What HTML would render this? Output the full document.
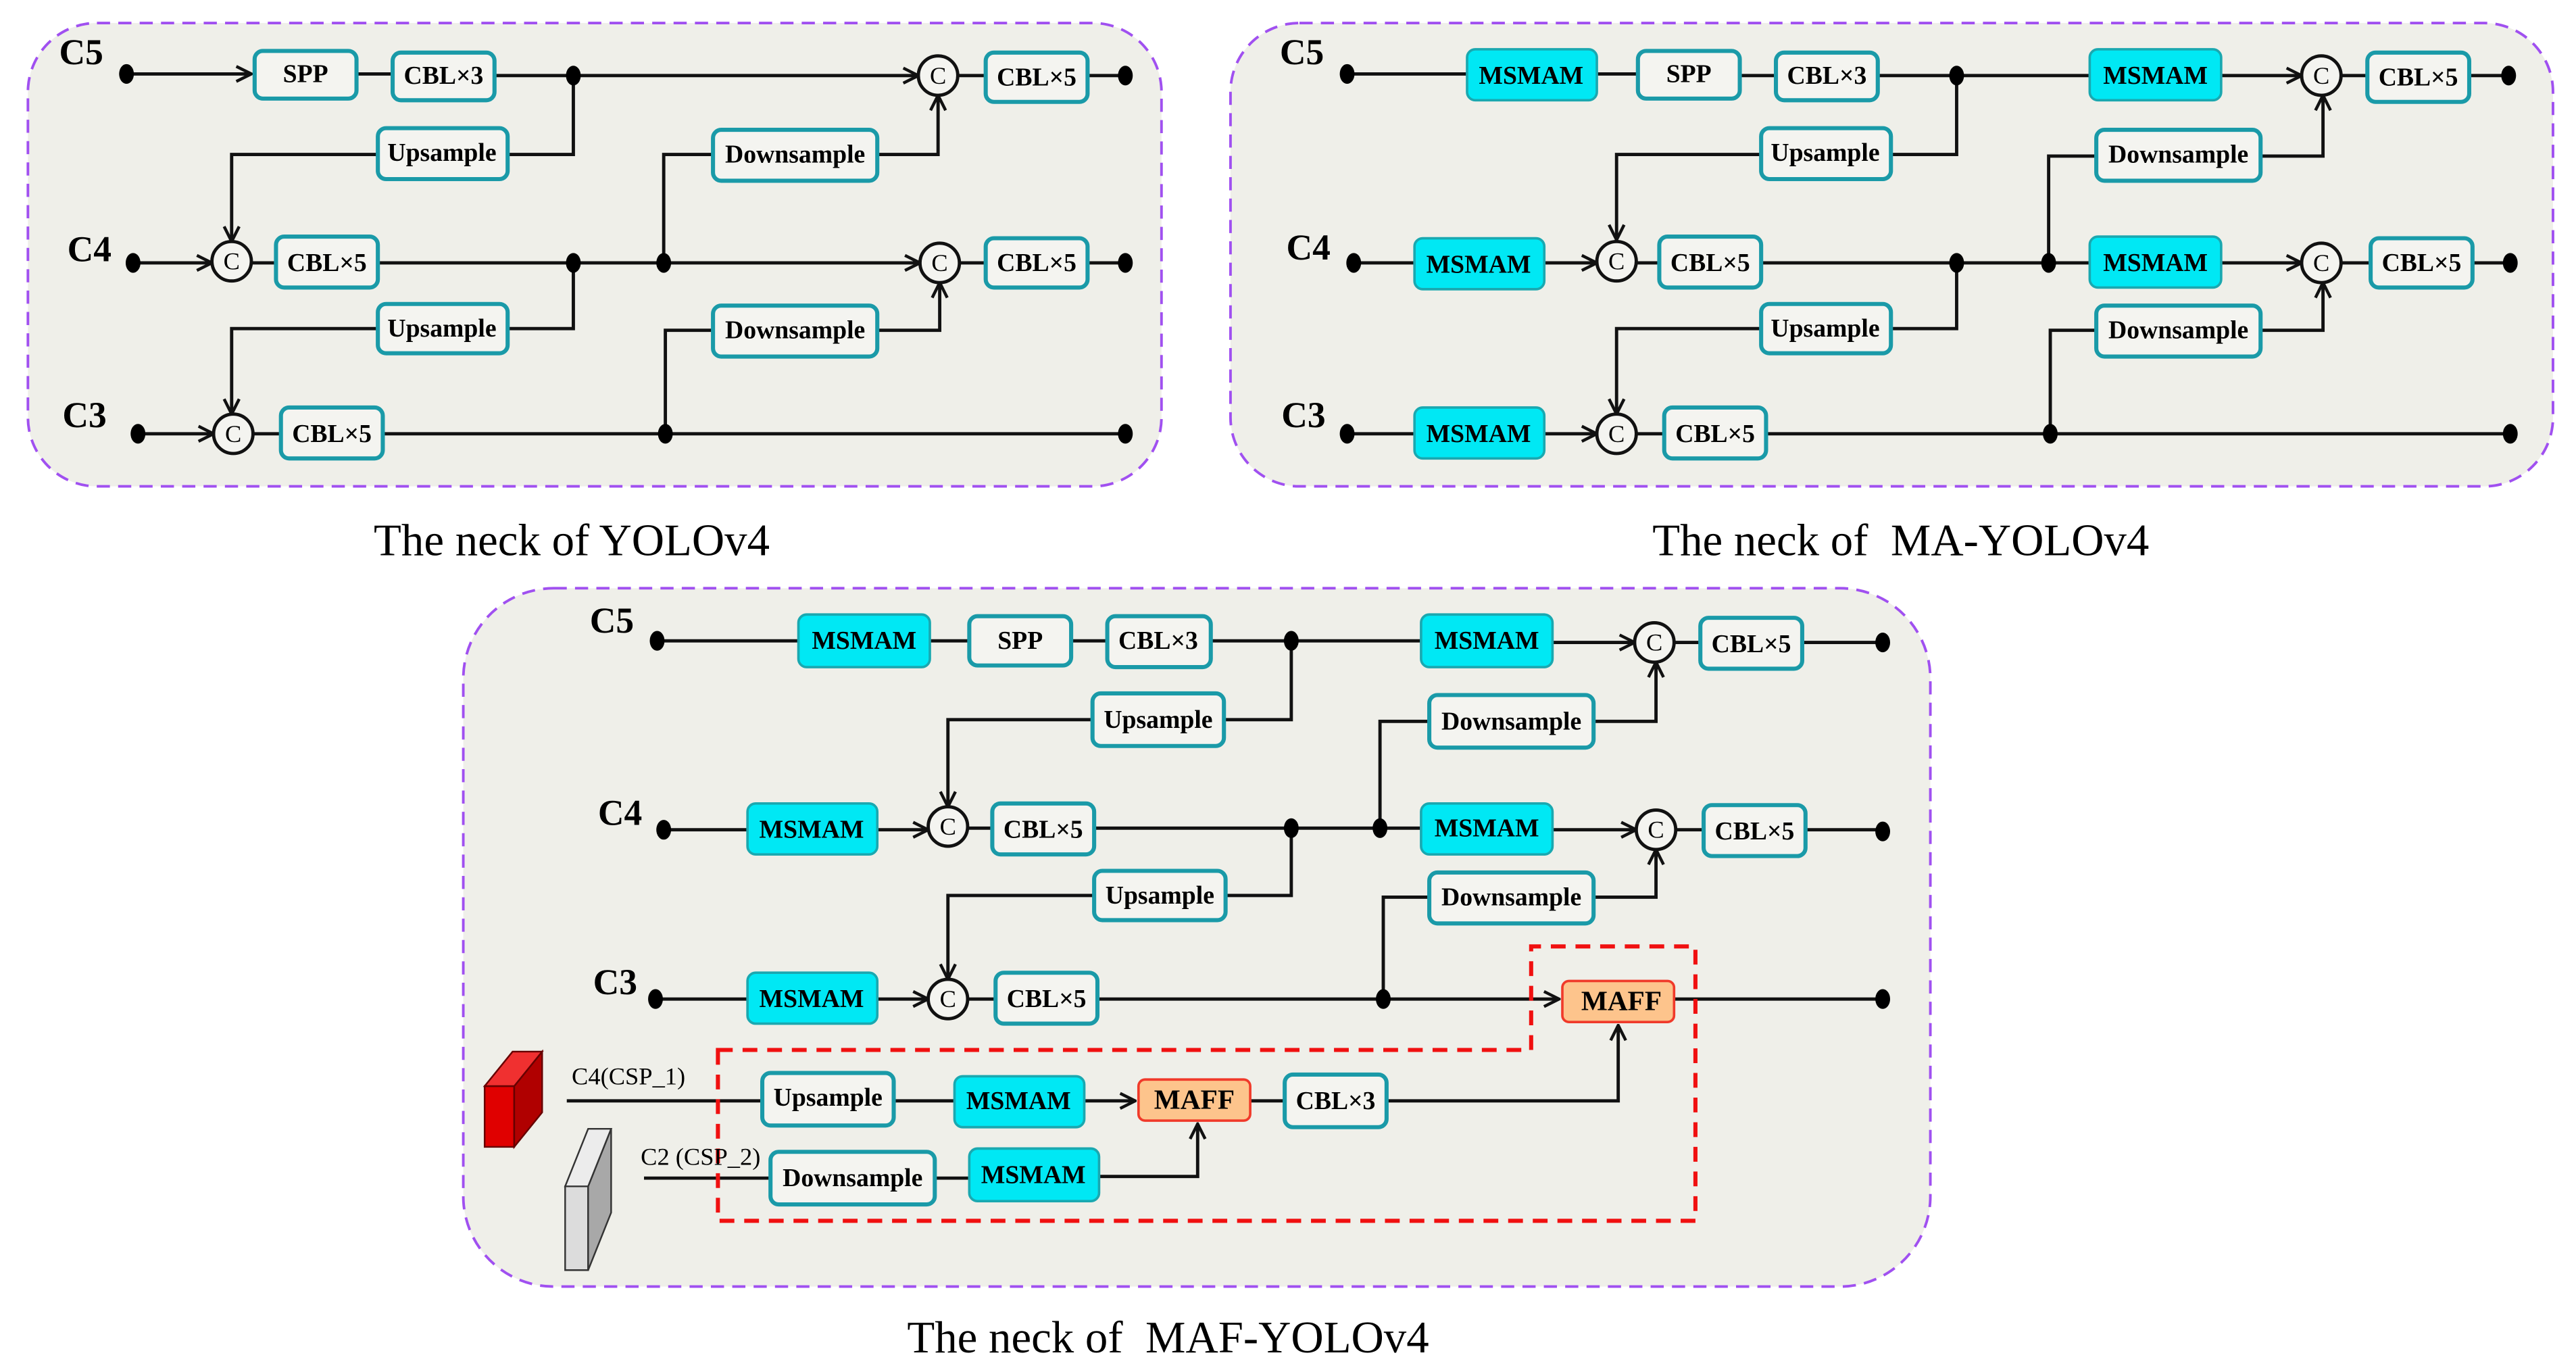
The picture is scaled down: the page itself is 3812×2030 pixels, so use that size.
<!DOCTYPE html>
<html><head><meta charset="utf-8"><style>
html,body{margin:0;padding:0;background:#fff}
svg{display:block}
text{font-family:"Liberation Serif",serif}
.b{fill:#f4f4f0;stroke:#1a9aa8;stroke-width:2.5}
.m{fill:#00e8f4;stroke:#1aa8b0;stroke-width:1.5}
.t{font-weight:bold;font-size:15.5px;text-anchor:middle;dominant-baseline:central}
.l{stroke:#111;stroke-width:2;fill:none}
.lb{font-weight:bold;font-size:22px}
.cap{font-size:27.5px;text-anchor:middle;white-space:pre}
.c{fill:#f4f4f0;stroke:#111;stroke-width:2}
.ct{font-size:15px;text-anchor:middle;dominant-baseline:central}
.p{fill:#efefe9;stroke:#a050f0;stroke-width:1.6;stroke-dasharray:8 5}
</style></head><body>
<svg width="3812" height="2030" viewBox="0 0 1568 835" preserveAspectRatio="none" xmlns="http://www.w3.org/2000/svg">
<defs>
<marker id="A" viewBox="0 0 12 12" refX="11" refY="6" markerWidth="11" markerHeight="11" orient="auto" markerUnits="userSpaceOnUse"><path d="M1,1 L11,6 L1,11" fill="none" stroke="#111" stroke-width="2"/></marker>
</defs>
<rect width="1568" height="835" fill="#fff"/>

<!-- Panel 1 -->
<rect class="p" x="17" y="14" width="690" height="282" rx="42"/>
<g>
<path class="l" d="M77,45 H153" marker-end="url(#A)"/>
<path class="l" d="M217,45 H239 M301,46 H559" marker-end="url(#A)"/>
<path class="l" d="M583,46 H600 M662,46 H685"/>
<path class="l" d="M349,46 V94 H309 M230,94 H141 V147" marker-end="url(#A)"/>
<path class="l" d="M81,160 H129" marker-end="url(#A)"/>
<path class="l" d="M153,160 H168 M230,160 H560" marker-end="url(#A)"/>
<path class="l" d="M584,160 H600 M662,160 H685"/>
<path class="l" d="M404,160 V94 H434 M534,94 H571 V58" marker-end="url(#A)"/>
<path class="l" d="M349,160 V200 H309 M230,200 H141 V252" marker-end="url(#A)"/>
<path class="l" d="M84,264 H130" marker-end="url(#A)"/>
<path class="l" d="M154,264 H171 M233,264 H685"/>
<path class="l" d="M405,264 V201 H434 M534,201 H572 V172" marker-end="url(#A)"/>
<rect class="b" x="155" y="31" width="62" height="29" rx="5"/><text class="t" x="186" y="45">SPP</text>
<rect class="b" x="239" y="32" width="62" height="29" rx="5"/><text class="t" x="270" y="46">CBL×3</text>
<rect class="b" x="600" y="32" width="62" height="30" rx="5"/><text class="t" x="631" y="47">CBL×5</text>
<rect class="b" x="230" y="78" width="79" height="31" rx="5"/><text class="t" x="269" y="93">Upsample</text>
<rect class="b" x="434" y="79" width="100" height="31" rx="5"/><text class="t" x="484" y="94">Downsample</text>
<rect class="b" x="168" y="144" width="62" height="31" rx="5"/><text class="t" x="199" y="160">CBL×5</text>
<rect class="b" x="600" y="145" width="62" height="30" rx="5"/><text class="t" x="631" y="160">CBL×5</text>
<rect class="b" x="230" y="185" width="79" height="30" rx="5"/><text class="t" x="269" y="200">Upsample</text>
<rect class="b" x="434" y="186" width="100" height="31" rx="5"/><text class="t" x="484" y="201">Downsample</text>
<rect class="b" x="171" y="248" width="62" height="31" rx="5"/><text class="t" x="202" y="264">CBL×5</text>
<circle class="c" cx="571" cy="46" r="12"/><text class="ct" x="571" y="46">C</text>
<circle class="c" cx="141" cy="159" r="12"/><text class="ct" x="141" y="159">C</text>
<circle class="c" cx="572" cy="160" r="12"/><text class="ct" x="572" y="160">C</text>
<circle class="c" cx="142" cy="264" r="12"/><text class="ct" x="142" y="264">C</text>
<ellipse cx="77" cy="45" rx="4.5" ry="6"/><ellipse cx="349" cy="46" rx="4.5" ry="6"/><ellipse cx="685" cy="46" rx="4.5" ry="6"/>
<ellipse cx="81" cy="160" rx="4.5" ry="6"/><ellipse cx="349" cy="160" rx="4.5" ry="6"/><ellipse cx="404" cy="160" rx="4.5" ry="6"/><ellipse cx="685" cy="160" rx="4.5" ry="6"/>
<ellipse cx="84" cy="264" rx="4.5" ry="6"/><ellipse cx="405" cy="264" rx="4.5" ry="6"/><ellipse cx="685" cy="264" rx="4.5" ry="6"/>
<text class="lb" x="36" y="39">C5</text><text class="lb" x="41" y="159">C4</text><text class="lb" x="38" y="260">C3</text>
</g>
<text class="cap" x="348" y="338">The neck of YOLOv4</text>

<!-- Panel 2 -->
<rect class="p" x="749" y="14" width="805" height="282" rx="42"/>
<g>
<path class="l" d="M820,45 H893 M972,45 H997 M1059,46 H1081 M1143,46 H1272"/>
<path class="l" d="M1352,46 H1401" marker-end="url(#A)"/>
<path class="l" d="M1425,46 H1441 M1503,46 H1527"/>
<path class="l" d="M1191,46 V94 H1151 M1072,94 H984 V146" marker-end="url(#A)"/>
<path class="l" d="M824,160 H861"/>
<path class="l" d="M940,160 H972" marker-end="url(#A)"/>
<path class="l" d="M996,160 H1010 M1072,160 H1272"/>
<path class="l" d="M1352,160 H1401" marker-end="url(#A)"/>
<path class="l" d="M1425,160 H1443 M1505,160 H1528"/>
<path class="l" d="M1247,160 V95 H1276 M1376,95 H1414 V58" marker-end="url(#A)"/>
<path class="l" d="M1191,160 V200 H1151 M1072,200 H984 V252" marker-end="url(#A)"/>
<path class="l" d="M820,264 H861"/>
<path class="l" d="M940,264 H972" marker-end="url(#A)"/>
<path class="l" d="M996,264 H1013 M1075,264 H1528"/>
<path class="l" d="M1248,264 V201 H1276 M1376,201 H1414 V172" marker-end="url(#A)"/>
<rect class="m" x="893" y="30" width="79" height="31" rx="5"/><text class="t" x="932" y="46">MSMAM</text>
<rect class="b" x="997" y="31" width="62" height="29" rx="5"/><text class="t" x="1028" y="45">SPP</text>
<rect class="b" x="1081" y="32" width="62" height="29" rx="5"/><text class="t" x="1112" y="46">CBL×3</text>
<rect class="m" x="1272" y="30" width="80" height="31" rx="5"/><text class="t" x="1312" y="46">MSMAM</text>
<rect class="b" x="1441" y="32" width="62" height="30" rx="5"/><text class="t" x="1472" y="47">CBL×5</text>
<rect class="b" x="1072" y="78" width="79" height="31" rx="5"/><text class="t" x="1111" y="93">Upsample</text>
<rect class="b" x="1276" y="79" width="100" height="31" rx="5"/><text class="t" x="1326" y="94">Downsample</text>
<rect class="m" x="861" y="145" width="79" height="31" rx="5"/><text class="t" x="900" y="161">MSMAM</text>
<rect class="b" x="1010" y="144" width="62" height="31" rx="5"/><text class="t" x="1041" y="160">CBL×5</text>
<rect class="m" x="1272" y="144" width="80" height="31" rx="5"/><text class="t" x="1312" y="160">MSMAM</text>
<rect class="b" x="1443" y="145" width="62" height="30" rx="5"/><text class="t" x="1474" y="160">CBL×5</text>
<rect class="b" x="1072" y="185" width="79" height="30" rx="5"/><text class="t" x="1111" y="200">Upsample</text>
<rect class="b" x="1276" y="186" width="100" height="31" rx="5"/><text class="t" x="1326" y="201">Downsample</text>
<rect class="m" x="861" y="248" width="79" height="31" rx="5"/><text class="t" x="900" y="264">MSMAM</text>
<rect class="b" x="1013" y="248" width="62" height="31" rx="5"/><text class="t" x="1044" y="264">CBL×5</text>
<circle class="c" cx="1413" cy="46" r="12"/><text class="ct" x="1413" y="46">C</text>
<circle class="c" cx="984" cy="159" r="12"/><text class="ct" x="984" y="159">C</text>
<circle class="c" cx="1413" cy="160" r="12"/><text class="ct" x="1413" y="160">C</text>
<circle class="c" cx="984" cy="264" r="12"/><text class="ct" x="984" y="264">C</text>
<ellipse cx="820" cy="45" rx="4.5" ry="6"/><ellipse cx="1191" cy="46" rx="4.5" ry="6"/><ellipse cx="1527" cy="46" rx="4.5" ry="6"/>
<ellipse cx="824" cy="160" rx="4.5" ry="6"/><ellipse cx="1191" cy="160" rx="4.5" ry="6"/><ellipse cx="1247" cy="160" rx="4.5" ry="6"/><ellipse cx="1528" cy="160" rx="4.5" ry="6"/>
<ellipse cx="820" cy="264" rx="4.5" ry="6"/><ellipse cx="1248" cy="264" rx="4.5" ry="6"/><ellipse cx="1528" cy="264" rx="4.5" ry="6"/>
<text class="lb" x="779" y="39">C5</text><text class="lb" x="783" y="158">C4</text><text class="lb" x="780" y="260">C3</text>
</g>
<text class="cap" x="1157" y="338">The neck of&#160;&#160;MA-YOLOv4</text>

<!-- Panel 3 -->
<rect class="p" x="282" y="358" width="893" height="425" rx="55"/>
<g>
<path class="l" d="M400,390 H486 M566,390 H590 M652,390 H674 M737,390 H865"/>
<path class="l" d="M945,391 H995" marker-end="url(#A)"/>
<path class="l" d="M1019,391 H1035 M1097,391 H1146"/>
<path class="l" d="M786,390 V438 H745 M665,438 H577 V491" marker-end="url(#A)"/>
<path class="l" d="M840,504 V439 H870 M970,439 H1008 V403" marker-end="url(#A)"/>
<path class="l" d="M404,505 H455"/>
<path class="l" d="M534,505 H565" marker-end="url(#A)"/>
<path class="l" d="M589,504 H604 M666,504 H865"/>
<path class="l" d="M945,505 H996" marker-end="url(#A)"/>
<path class="l" d="M1020,505 H1037 M1099,505 H1146"/>
<path class="l" d="M786,504 V545 H746 M666,545 H577 V596" marker-end="url(#A)"/>
<path class="l" d="M842,608 V546 H870 M970,546 H1008 V517" marker-end="url(#A)"/>
<path class="l" d="M399,608 H455"/>
<path class="l" d="M534,608 H565" marker-end="url(#A)"/>
<path class="l" d="M589,608 H606 M668,608 H949" marker-end="url(#A)"/>
<path class="l" d="M1019,608 H1146"/>
<path class="l" d="M345,670 H464 M544,670 H581"/>
<path class="l" d="M660,670 H691" marker-end="url(#A)"/>
<path class="l" d="M761,670 H782 M844,670 H985 V624" marker-end="url(#A)"/>
<path class="l" d="M392,717 H469 M569,717 H590"/>
<path class="l" d="M669,716 H729 V684" marker-end="url(#A)"/>
<path d="M437,639 H932 V576 H1032 V743 H437 Z" fill="none" stroke="#f01010" stroke-width="2.5" stroke-dasharray="9 6"/>
<rect class="m" x="486" y="374" width="80" height="32" rx="5"/><text class="t" x="526" y="390">MSMAM</text>
<rect class="b" x="590" y="375" width="62" height="30" rx="5"/><text class="t" x="621" y="390">SPP</text>
<rect class="b" x="674" y="375" width="63" height="31" rx="5"/><text class="t" x="705" y="390">CBL×3</text>
<rect class="m" x="865" y="374" width="80" height="32" rx="5"/><text class="t" x="905" y="390">MSMAM</text>
<rect class="b" x="1035" y="376" width="62" height="31" rx="5"/><text class="t" x="1066" y="392">CBL×5</text>
<rect class="b" x="665" y="422" width="80" height="32" rx="5"/><text class="t" x="705" y="438">Upsample</text>
<rect class="b" x="870" y="423" width="100" height="32" rx="5"/><text class="t" x="920" y="439">Downsample</text>
<rect class="m" x="455" y="489" width="79" height="31" rx="5"/><text class="t" x="494" y="505">MSMAM</text>
<rect class="b" x="604" y="489" width="62" height="31" rx="5"/><text class="t" x="635" y="505">CBL×5</text>
<rect class="m" x="865" y="489" width="80" height="31" rx="5"/><text class="t" x="905" y="504">MSMAM</text>
<rect class="b" x="1037" y="490" width="62" height="31" rx="5"/><text class="t" x="1068" y="506">CBL×5</text>
<rect class="b" x="666" y="530" width="80" height="30" rx="5"/><text class="t" x="706" y="545">Upsample</text>
<rect class="b" x="870" y="531" width="100" height="31" rx="5"/><text class="t" x="920" y="546">Downsample</text>
<rect class="m" x="455" y="592" width="79" height="31" rx="5"/><text class="t" x="494" y="608">MSMAM</text>
<rect class="b" x="606" y="592" width="62" height="31" rx="5"/><text class="t" x="637" y="608">CBL×5</text>
<rect x="951" y="597" width="68" height="25" rx="4" fill="#fdc48c" stroke="#f03a2a" stroke-width="1.5"/><text class="t" x="987" y="609" style="font-size:17px">MAFF</text>
<rect class="b" x="464" y="653" width="80" height="32" rx="5"/><text class="t" x="504" y="668">Upsample</text>
<rect class="m" x="581" y="655" width="79" height="31" rx="5"/><text class="t" x="620" y="670">MSMAM</text>
<rect x="693" y="657" width="68" height="25" rx="4" fill="#fdc48c" stroke="#f03a2a" stroke-width="1.5"/><text class="t" x="727" y="669" style="font-size:17px">MAFF</text>
<rect class="b" x="782" y="654" width="62" height="32" rx="5"/><text class="t" x="813" y="670">CBL×3</text>
<rect class="b" x="469" y="701" width="100" height="32" rx="5"/><text class="t" x="519" y="717">Downsample</text>
<rect class="m" x="590" y="699" width="79" height="32" rx="5"/><text class="t" x="629" y="715">MSMAM</text>
<circle class="c" cx="1007" cy="391" r="12"/><text class="ct" x="1007" y="391">C</text>
<circle class="c" cx="577" cy="503" r="12"/><text class="ct" x="577" y="503">C</text>
<circle class="c" cx="1008" cy="505" r="12"/><text class="ct" x="1008" y="505">C</text>
<circle class="c" cx="577" cy="608" r="12"/><text class="ct" x="577" y="608">C</text>
<ellipse cx="400" cy="390" rx="4.5" ry="6"/><ellipse cx="786" cy="390" rx="4.5" ry="6"/><ellipse cx="1146" cy="391" rx="4.5" ry="6"/>
<ellipse cx="404" cy="505" rx="4.5" ry="6"/><ellipse cx="786" cy="504" rx="4.5" ry="6"/><ellipse cx="840" cy="504" rx="4.5" ry="6"/><ellipse cx="1146" cy="506" rx="4.5" ry="6"/>
<ellipse cx="399" cy="608" rx="4.5" ry="6"/><ellipse cx="842" cy="608" rx="4.5" ry="6"/><ellipse cx="1146" cy="608" rx="4.5" ry="6"/>
<text class="lb" x="359" y="385">C5</text><text class="lb" x="364" y="502">C4</text><text class="lb" x="361" y="605">C3</text>
<text x="348" y="660" style="font-size:15px">C4(CSP_1)</text>
<text x="390" y="709" style="font-size:15px">C2 (CSP_2)</text>
<polygon points="295,661 313,661 313,698 295,698" fill="#e00000" stroke="#600" stroke-width="1"/>
<polygon points="313,661 330,640 330,677 313,698" fill="#b00000" stroke="#600" stroke-width="1"/>
<polygon points="295,661 312,640 330,640 313,661" fill="#f03030" stroke="#600" stroke-width="1"/>
<polygon points="344,722 358,722 358,773 344,773" fill="#dcdcdc" stroke="#333" stroke-width="1"/>
<polygon points="358,722 372,687 372,738 358,773" fill="#a8a8a8" stroke="#333" stroke-width="1"/>
<polygon points="344,722 358,687 372,687 358,722" fill="#ececec" stroke="#333" stroke-width="1"/>
</g>
<text class="cap" x="711" y="823">The neck of&#160;&#160;MAF-YOLOv4</text>
</svg>
</body></html>
